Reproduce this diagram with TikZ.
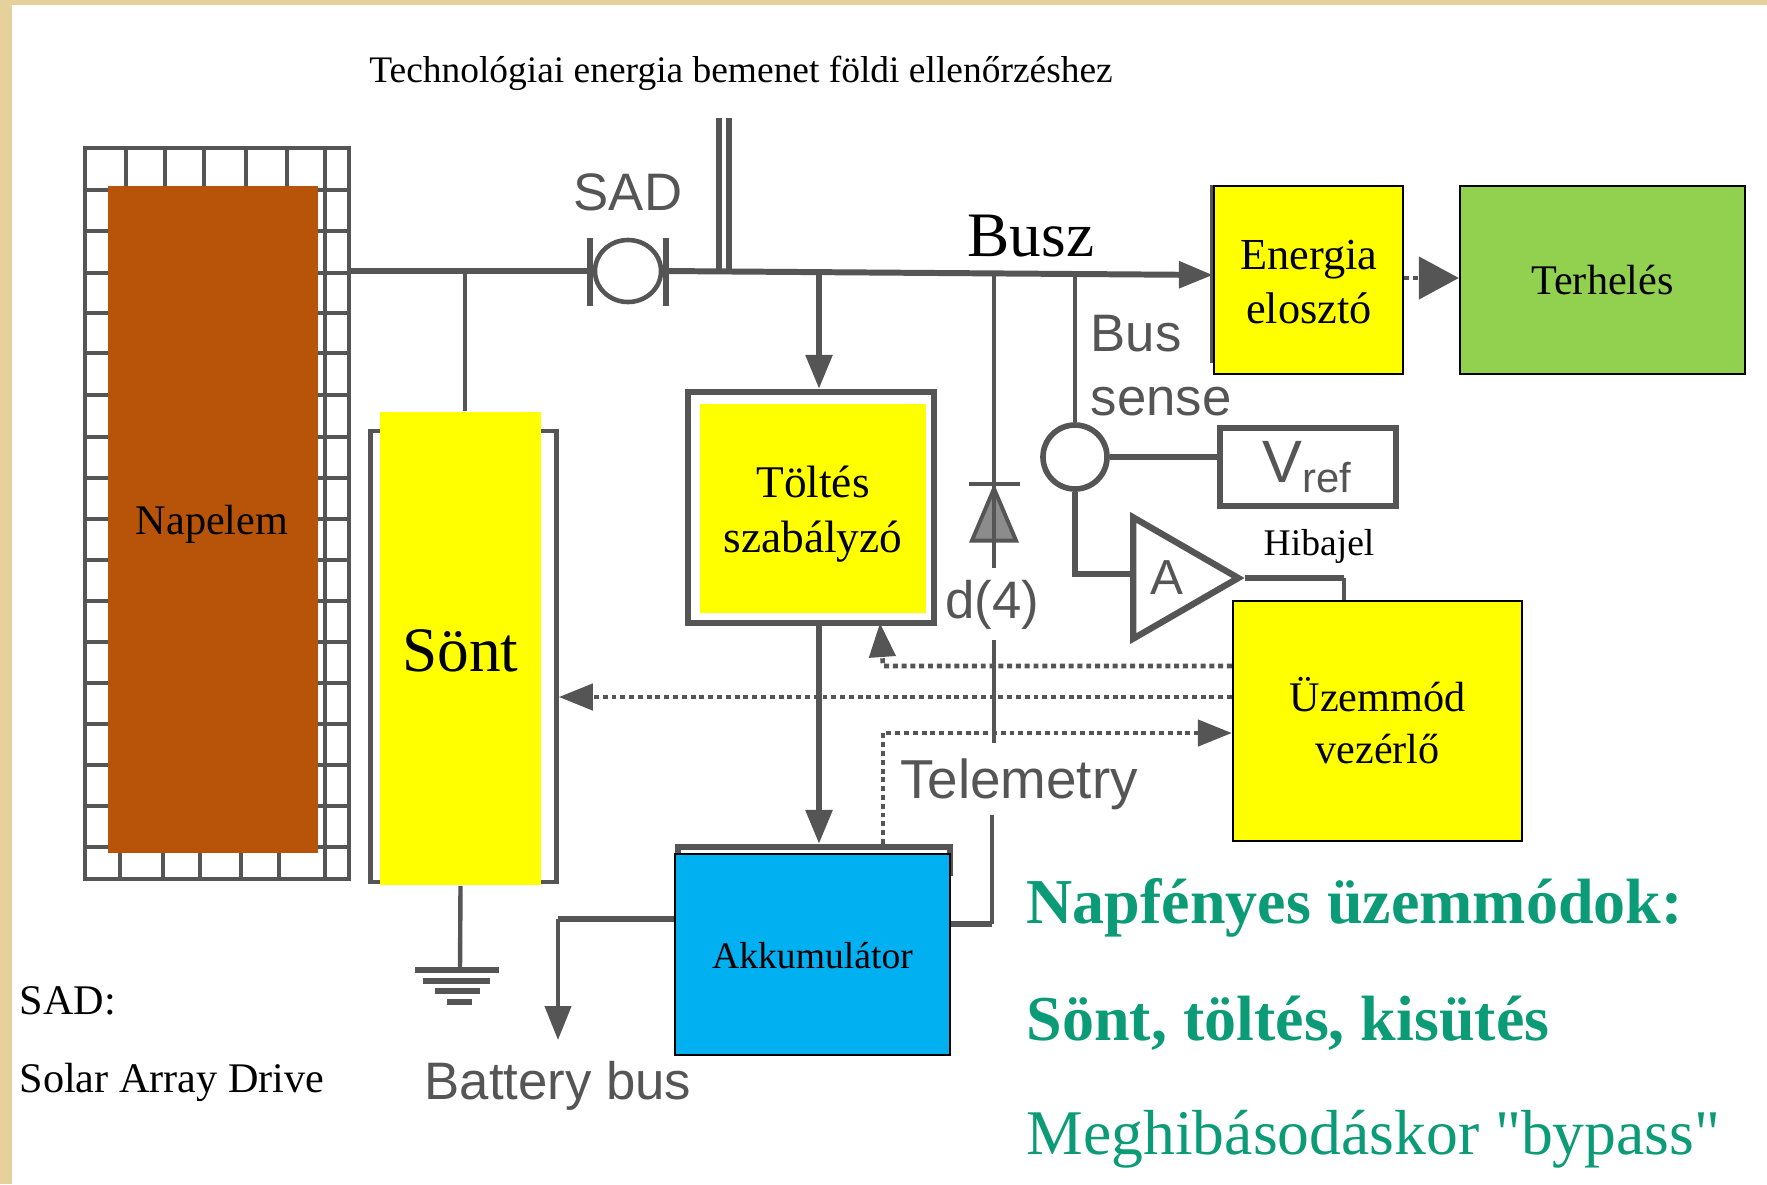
\documentclass[tikz,border=0pt]{standalone}
\usepackage{fontspec}
\setmainfont{Liberation Serif}
\newfontfamily\scanfont{Liberation Sans}
\newfontfamily\straightfont{Liberation Serif}
\usetikzlibrary{positioning, arrows.meta, calc, shapes.geometric}
\definecolor{scan}{HTML}{555555}
\definecolor{paper}{HTML}{E6D09C}
\definecolor{napbarna}{HTML}{B8540A}
\definecolor{sarga}{HTML}{FFFF00}
\definecolor{zold}{HTML}{92D050}
\definecolor{kek}{HTML}{00B0F0}
\definecolor{felirat}{HTML}{0B9B76}

\begin{document}
\begin{tikzpicture}[
            x=0.01cm,
            y=-0.01cm,
            >={Triangle[length=0.34cm, width=0.26cm]},
            wire/.style={draw=scan, line width=1.7pt},
            thinwire/.style={draw=scan, line width=1.25pt},
            dotwire/.style={draw=scan, line width=1.3pt, dash pattern=on 1.4pt off 1.1pt},
            block/.style={draw=black, line width=0.6pt, inner sep=0pt, align=center, font=\fontsize{12.6}{15.5}\selectfont},
            panel/.style={inner sep=0pt, align=center},
            oldbox/.style={draw=scan, line width=1.3pt, inner sep=0pt, fill=white},
            scanlabel/.style={text=scan, inner sep=0pt, align=left, font=\scanfont\fontsize{15}{19}\selectfont},
            note/.style={inner sep=0pt, anchor=west, font=\fontsize{12}{14}\selectfont},
            mode/.style={inner sep=0pt, anchor=west, text=felirat, font=\fontsize{18}{22}\selectfont},
        ]
            \useasboundingbox (0,0) rectangle (1767,1184);
            % Paper edge and sheet
            \fill[paper] (0,0) rectangle (1767,1184);
            \fill[white] (12,5) rectangle (1767,1184);

            % Draw the solar array grid
            \draw[thinwire] (85,148) rectangle (349,879);
            \foreach \x in {126,165,204,246,287}
                \draw[thinwire] (\x,148) -- (\x,186);
            \foreach \x in {120,163,200,241,279}
                \draw[thinwire] (\x,853) -- (\x,879);
            \draw[thinwire] (325,148) -- (325,879);
            \foreach \y in {190,231,273,313,353,395,437,478,519,560,601,642,683,724,765,806,847}
                \draw[thinwire] (85,\y) -- (349,\y);

            % Draw the boxes of the scan
            \node[oldbox, minimum width=1.86cm, minimum height=4.51cm] (shunt-frame) at (463.5,656.5) {};
            \node[oldbox, line width=1.8pt, minimum width=2.46cm, minimum height=2.31cm] (charge-frame) at (811,507.5) {};
            \node[oldbox, line width=1.8pt, minimum width=2.72cm, minimum height=0.26cm] (batt-frame) at (814,860) {};
            \node[oldbox, line width=1.8pt, minimum width=1.76cm, minimum height=0.78cm] (vref) at (1308,467) {};
            \node[scanlabel, font=\scanfont\fontsize{17}{19}\selectfont] at (vref.center) {V\textsubscript{ref}};
            \draw[thinwire] (1212,185) -- (1212,363);

            % Draw the coloured blocks
            \node[panel, fill=napbarna, minimum width=2.1cm, minimum height=6.67cm] (napelem) at (213,519.5) {};
            \node[inner sep=0pt, font=\fontsize{12}{15}\selectfont] (napelem-label) at (212,524) {Napelem};
            \node[panel, fill=sarga, minimum width=1.61cm, minimum height=4.73cm] (sont) at (460.5,648.5) {};
            \node[inner sep=0pt, font=\fontsize{18}{22}\selectfont] (sont-label) at (460.5,651) {Sönt};
            \node[panel, fill=sarga, minimum width=2.26cm, minimum height=2.09cm] (toltes) at (813,508.5) {};
            \node[panel, font=\fontsize{12.9}{15.8}\selectfont] (toltes-label) at (813,514) {Töltés\\szabályzó};
            \node[block, fill=sarga, minimum width=1.89cm, minimum height=1.88cm] (energia) at (1308.5,280) {};
            \node[panel, font=\fontsize{12.6}{15.5}\selectfont] (energia-label) at (1309,282) {Energia\\elosztó};
            \node[block, fill=zold, minimum width=2.85cm, minimum height=1.88cm, font=\fontsize{12}{15}\selectfont] (terheles) at (1602.5,280) {Terhelés};
            \node[block, fill=sarga, minimum width=2.89cm, minimum height=2.4cm, font=\fontsize{12}{14.8}\selectfont] (uzemmod) at (1377.5,721) {Üzemmód\\vezérlő};
            \node[block, fill=kek, minimum width=2.75cm, minimum height=2.01cm] (akku) at (812.5,954.5) {};
            \node[inner sep=0pt, font=\fontsize{10.7}{14}\selectfont] (akku-label) at (812.5,956) {Akkumulátor};

            % Draw the small symbols
            \node[draw=scan, line width=1.3pt, ellipse, minimum width=0.66cm, minimum height=0.62cm, inner sep=0pt] (sad) at (628,271) {};
            \node[draw=scan, line width=1.6pt, circle, minimum size=0.64cm, inner sep=0pt] (sense) at (1075,457) {};
            \node[draw=scan, line width=1.8pt, isosceles triangle, isosceles triangle apex angle=60, minimum height=1.05cm, inner sep=0pt, anchor=lower side] (amp) at (1130,578) {};
            \node[scanlabel, font=\scanfont\fontsize{14}{15}\selectfont] at (1167,578) {A};
            \node[draw=scan, fill=black!45, line width=1.1pt, isosceles triangle, isosceles triangle apex angle=46, minimum height=0.52cm, inner sep=0pt, shape border rotate=90] (diode) at (994,526) {};

            % Bus junctions
            \coordinate (in-top-a) at (719,118);
            \coordinate (in-top-b) at (729,118);
            \coordinate (array-out) at (349,271);
            \coordinate (shunt-tap) at (465,271);
            \coordinate (bus-in) at (1214,275);
            \coordinate (bus-c) at (819,273);
            \coordinate (bus-d) at (994,274);
            \coordinate (bus-s) at (1075,274);
            \coordinate (d-gap) at (994,568);
            \coordinate (d-low) at (994,640);
            \coordinate (d-end) at (994,743);
            \coordinate (tm-low) at (992,815);
            \coordinate (tm-corner) at (992,924);
            \coordinate (amp-corner) at (1075,574);
            \coordinate (amp-out) at (amp.apex -| 1344,0);
            \coordinate (gnd) at (460,970);
            \coordinate (batt-corner) at (558,919);
            \coordinate (batt-end) at (558,1040);
            \coordinate (dot-a) at (883,666);
            \coordinate (dot-b) at (883,733);

            % Connect the main bus
            \draw[wire] (array-out) -- (sad.west);
            \draw[wire, ->] (sad.east) -- (energia.west |- bus-in);
            \draw[thinwire] (shunt-tap) -- (shunt-tap |- sont.north);
            \draw[wire] (in-top-a) -- (in-top-a |- sad.east);
            \draw[wire] (in-top-b) -- (in-top-b |- sad.east);
            \draw[wire] ($(sad.west)+(-3,-33)$) -- ($(sad.west)+(-3,35)$);
            \draw[wire] ($(sad.east)+(3,-33)$) -- ($(sad.east)+(3,35)$);

            % Connect the charge path
            \draw[wire, ->] (bus-c) -- (bus-c |- charge-frame.north);
            \draw[wire, ->] (bus-c |- charge-frame.south) -- (bus-c |- batt-frame.north);

            % Connect the diode line
            \draw[thinwire] (bus-d) -- (d-gap);
            \draw[thinwire] (d-low) -- (d-end);
            \draw[thinwire] (tm-low) -- (tm-corner);
            \draw[wire] (tm-corner) -- (tm-corner -| akku.east);
            \draw[thinwire] (969,484) -- (1020,484);

            % Connect the sense loop
            \draw[thinwire] (bus-s) -- (sense.north);
            \draw[wire] (sense.east) -- (sense.east -| vref.west);
            \draw[wire] (sense.south) -- (amp-corner) -- (amp-corner -| amp.lower side);
            \draw[wire] (amp.apex) -- (amp-out);
            \draw[thinwire] (amp-out) -- (amp-out |- uzemmod.north);

            % Connect the dotted control lines
            \draw[dotwire, ->] (uzemmod.west |- dot-a) -- (dot-a) -- (880,623);
            \draw[dotwire, ->] (uzemmod.west |- 0,697) -- (shunt-frame.east |- 0,697);
            \draw[dotwire, ->] (dot-b |- batt-frame.north) -- (dot-b) -- (uzemmod.west |- dot-b);
            \draw[dotwire, -{Triangle[length=0.4cm, width=0.42cm]}] (energia.east |- 0,278) -- (terheles.west |- 0,278);

            % Draw the ground and the battery bus
            \draw[thinwire] (sont.south) -- (gnd);
            \draw[wire] (415,970) -- (499,970);
            \draw[wire] (423,981) -- (490,981);
            \draw[wire] (435,991) -- (480,991);
            \draw[wire] (447,1002) -- (472,1002);
            \draw[wire] (akku.west |- batt-corner) -- (batt-corner);
            \draw[thinwire, ->] (batt-corner) -- (batt-end);

            % Labels
            \node[inner sep=0pt, font=\fontsize{10.65}{13}\selectfont] (in-label) at (741,73) {Technológiai energia bemenet földi ellenőrzéshez};
            \node[scanlabel] (sad-label) at (628,192) {SAD};
            \node[inner sep=0pt, font=\fontsize{18}{22}\selectfont] (busz-label) at (1031,236) {Busz};
            \node[scanlabel] (bus-label) at (1136,334) {Bus};
            \node[scanlabel] (sense-label) at (1161,402) {sense};
            \node[inner sep=0pt, font=\fontsize{10.7}{13}\selectfont] (hiba-label) at (1319,546) {Hibajel};
            \node[scanlabel] (d-label) at (992,605) {d(4)};
            \node[scanlabel, font=\scanfont\fontsize{15.6}{19}\selectfont] (tm-label) at (1019,784) {Telemetry};
            \node[scanlabel] (batt-label) at (558,1086) {Battery bus};
            \node[note] (sad-note) at (19,1001) {SAD:};
            \node[note] (sad-long) at (19,1082) {Solar Array Drive};
            \node[mode, font=\bfseries\fontsize{18.2}{22}\selectfont] (mode-a) at (1026,908) {Napfényes üzemmódok:};
            \node[mode, font=\bfseries\fontsize{18.2}{22}\selectfont] (mode-b) at (1026,1023) {Sönt, töltés, kisütés};
            \node[mode, font=\straightfont\fontsize{18.1}{22}\selectfont] (mode-c) at (1026,1139) {Meghibásodáskor "bypass"};
        \end{tikzpicture}
\end{document}
